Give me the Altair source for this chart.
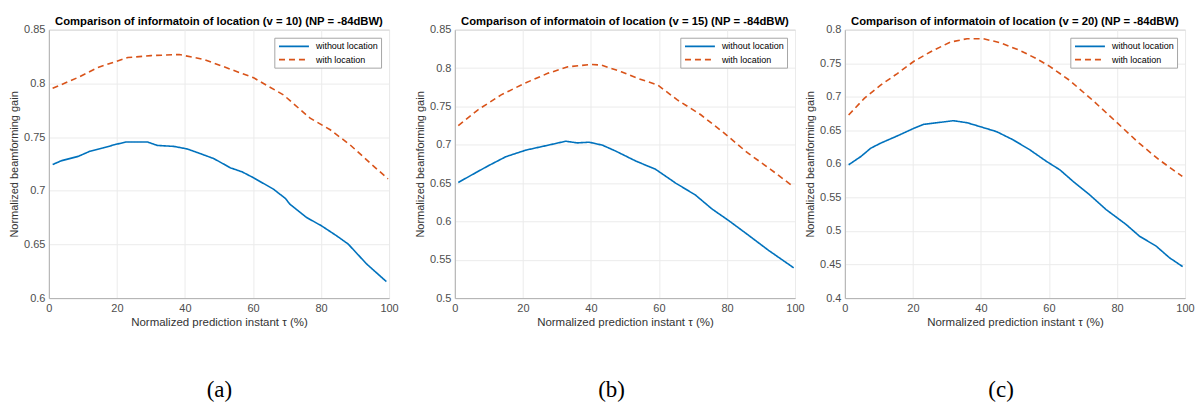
import altair as alt
import pandas as pd

# ---------------- data ----------------
series_names = ["without location", "with location"]

a_wo_x = [1.1, 3.7, 8.6, 12, 15.9, 19.3, 22.7, 29, 31.9, 36.8, 40.7, 44.6, 48.5, 53.4, 56.8, 60.2, 66, 69.5, 70.9, 75.8, 80.2, 84.6, 88, 93.4, 99.2]
a_wo_y = [0.7244, 0.728, 0.732, 0.7367, 0.7398, 0.7429, 0.7454, 0.7454, 0.7422, 0.7413, 0.7389, 0.7345, 0.7299, 0.7213, 0.7176, 0.712, 0.7015, 0.6929, 0.6873, 0.675, 0.6672, 0.658, 0.6503, 0.6318, 0.6154]
a_w_x = [1.1, 8.6, 14.4, 23.2, 30, 38.3, 45.7, 53.4, 60.2, 69, 76.8, 82.7, 88.5, 94.4, 99.7]
a_w_y = [0.7954, 0.8056, 0.8148, 0.8241, 0.8259, 0.8269, 0.8222, 0.8132, 0.8052, 0.7892, 0.7676, 0.7568, 0.7429, 0.7259, 0.7111]

b_wo_x = [1, 6.2, 10.1, 15, 20.9, 26.8, 32.6, 36, 39.5, 43.4, 47.3, 53.2, 59, 64.9, 70.7, 75.6, 80.5, 86.4, 92.2, 99.6]
b_wo_y = [0.6508, 0.6637, 0.6732, 0.6844, 0.693, 0.6988, 0.7046, 0.7024, 0.7033, 0.6994, 0.6917, 0.6787, 0.668, 0.65, 0.6345, 0.6162, 0.6011, 0.5817, 0.5623, 0.5395]
b_w_x = [1, 6.8, 13.6, 20.5, 27.3, 33.2, 40, 43, 48.9, 53.7, 59.6, 65.4, 72.3, 79.1, 86, 92.8, 99.2]
b_w_y = [0.7249, 0.7456, 0.765, 0.7801, 0.7931, 0.8016, 0.8047, 0.804, 0.7952, 0.7866, 0.778, 0.7585, 0.7391, 0.7155, 0.6896, 0.668, 0.6464]

c_wo_x = [1.1, 4.7, 7.6, 10.5, 15.4, 20.3, 23.2, 27.1, 31.9, 35.9, 39.8, 44.6, 49.5, 54.4, 59.3, 63.2, 67.1, 71.9, 76.8, 82.7, 86.6, 91.5, 95.4, 99.3]
c_wo_y = [0.5987, 0.611, 0.6234, 0.6309, 0.6417, 0.6531, 0.659, 0.6614, 0.6644, 0.6614, 0.6555, 0.6481, 0.6358, 0.6209, 0.6036, 0.5912, 0.5739, 0.5542, 0.5319, 0.5096, 0.4923, 0.4775, 0.4602, 0.4469]
c_w_x = [1.1, 5.7, 10.5, 15.4, 20.3, 25.1, 31, 35.9, 40.7, 45.6, 51.4, 56.3, 60.2, 66, 72.8, 79.7, 86.5, 92.4, 99.2]
c_w_y = [0.6729, 0.6976, 0.7174, 0.7347, 0.753, 0.7668, 0.7816, 0.7866, 0.7866, 0.7807, 0.7693, 0.757, 0.7455, 0.7248, 0.6951, 0.6629, 0.6309, 0.6061, 0.5813]

velocities = [10, 15, 20]
captions = ["(a)", "(b)", "(c)"]
y_domains = [[0.6, 0.85], [0.5, 0.85], [0.4, 0.8]]
x_ticks = [0, 20, 40, 60, 80, 100]

FONT = "Liberation Sans"
W, H = 341, 269


def make_df(wo_x, wo_y, w_x, w_y):
    rows = []
    for i, (x, y) in enumerate(zip(wo_x, wo_y)):
        rows.append({"x": x, "y": y, "series": series_names[0], "order": i})
    for i, (x, y) in enumerate(zip(w_x, w_y)):
        rows.append({"x": x, "y": y, "series": series_names[1], "order": i})
    return pd.DataFrame(rows)


def panel(df, v, cap, ydom, cap_x):
    lo, hi = ydom
    n = int(round((hi - lo) / 0.05))
    yticks = [round(lo + 0.05 * k, 2) for k in range(n + 1)]
    leg = alt.Legend(title=None, orient="top-right")
    lines = alt.Chart(df).mark_line(strokeWidth=1.6).encode(
        x=alt.X("x:Q", scale=alt.Scale(domain=[0, 100], nice=False),
                axis=alt.Axis(values=x_ticks, title="Normalized prediction instant τ (%)",
                              titleFontSize=11.5)),
        y=alt.Y("y:Q", scale=alt.Scale(domain=ydom, nice=False, zero=False),
                axis=alt.Axis(values=yticks, format="~g", title="Normalized beamforming gain")),
        color=alt.Color("series:N", scale=alt.Scale(domain=series_names, range=["#0072BD", "#D95319"]),
                        legend=leg),
        strokeDash=alt.StrokeDash("series:N", scale=alt.Scale(domain=series_names, range=[[1, 0], [6, 4]]),
                                  legend=leg),
        order="order:Q",
    )
    cap_text = alt.Chart(pd.DataFrame({"cap": [cap]})).mark_text(
        font="Liberation Serif", fontSize=23, baseline="alphabetic", align="center", color="black"
    ).encode(text="cap:N", x=alt.value(cap_x), y=alt.value(368))
    return alt.layer(lines, cap_text).properties(
        width=W, height=H,
        title=alt.TitleParams(f"Comparison of informatoin of location (v = {v}) (NP = -84dBW)",
                              font=FONT, fontSize=11.3, fontWeight="bold", color="black",
                              offset=-4, frame="group"),
    )


def spacer(w):
    return alt.Chart(pd.DataFrame({"v": [0]})).mark_point(opacity=0).encode(
        x=alt.X("v:Q", axis=None), y=alt.Y("v:Q", axis=None)
    ).properties(width=w, height=H, view=alt.ViewBackground(stroke="transparent"))


dfs = [make_df(a_wo_x, a_wo_y, a_w_x, a_w_y),
       make_df(b_wo_x, b_wo_y, b_w_x, b_w_y),
       make_df(c_wo_x, c_wo_y, c_w_x, c_w_y)]
cap_xs = [170.9, 157.1, 156.6]

pa, pb, pc = [panel(dfs[i], velocities[i], captions[i], y_domains[i], cap_xs[i]) for i in range(3)]

chart = alt.hconcat(pa, spacer(45.5), pb, spacer(29.5), pc, spacing=10, bounds="flush").resolve_scale(
    color="independent", strokeDash="independent", x="independent", y="independent"
).resolve_legend(
    color="independent", strokeDash="independent"
).properties(
    padding={"left": 0, "top": 7.3, "right": 0, "bottom": 0}
).configure_view(
    stroke="#b3b3b3", strokeWidth=1
).configure_axis(
    domainColor="#b3b3b3", gridColor="#ebebeb", ticks=False,
    labelFont=FONT, labelFontSize=11, labelColor="#4d4d4d", labelPadding=4,
    labelFlush=False, labelOverlap=False,
    titleFont=FONT, titleFontSize=11, titleFontWeight="normal", titleColor="#333333", titlePadding=4,
).configure_legend(
    strokeColor="#a6a6a6", fillColor="white", padding=2.7, rowPadding=2.3, offset=8,
    labelFont=FONT, labelFontSize=9, labelColor="#000000", labelOffset=16,
    symbolType="M-3,0H3", symbolSize=100, symbolOffset=11, symbolStrokeWidth=1.6,
    symbolFillColor="transparent", cornerRadius=0,
)

chart.save("out.html", embed_options={"renderer": "svg", "actions": False})
